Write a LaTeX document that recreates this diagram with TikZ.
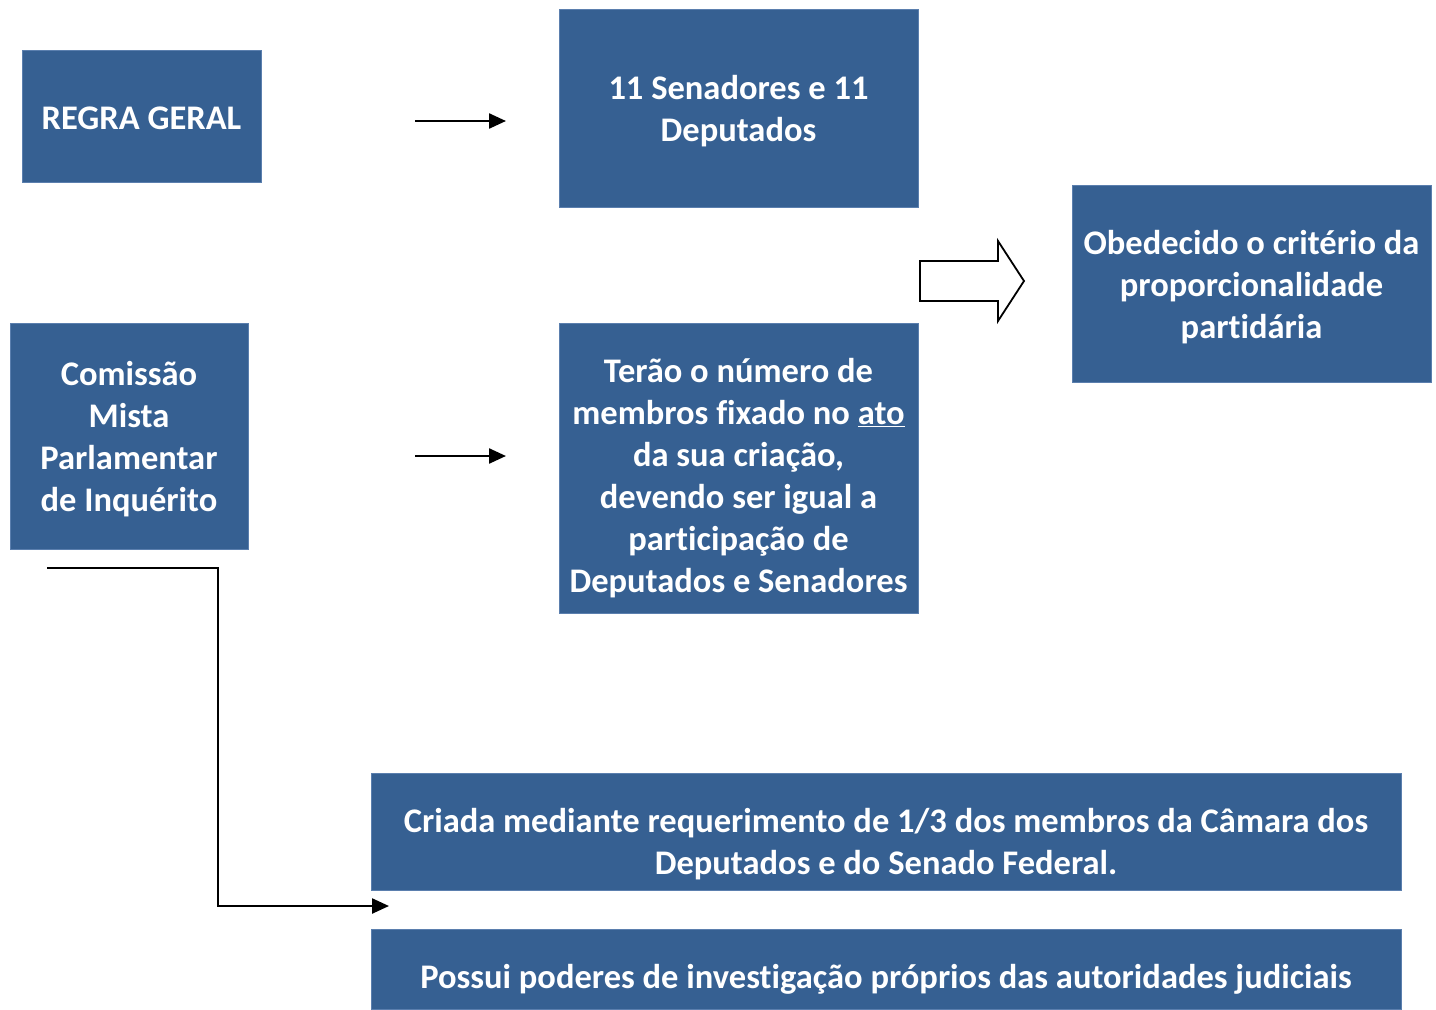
\documentclass[tikz,border=0pt]{standalone}
\usepackage{fontspec}
\setmainfont{Carlito}[Ligatures={NoCommon}]
\usetikzlibrary{arrows.meta}
\definecolor{boxblue}{HTML}{366092}
\definecolor{boxedge}{HTML}{5B7FAE}
\tikzset{
  bluebox/.style={fill=boxblue, draw=boxedge, line width=0.8pt, text=white, font=\bfseries\fontsize{34.5}{42}\selectfont, align=center, inner sep=0pt},
  btext/.style={text=white, font=\bfseries\fontsize{34.5}{42}\selectfont, align=center, inner sep=0pt},
  conn/.style={line width=2.4pt, -{Triangle[length=17pt,width=15pt]}},
}
\begin{document}
\begin{tikzpicture}[x=1pt,y=-1pt]
\useasboundingbox (0,0) rectangle (1436,1010);
% boxes
\node[bluebox, minimum width=239pt, minimum height=132pt] (regra) at (141.5,116) {};
\node[btext] (regratxt) at (141.5,118) {REGRA GERAL};
\node[bluebox, minimum width=359pt, minimum height=198pt] (onze) at (738.5,108) {};
\node[btext] (onzetxt) at (738.5,111) {11 Senadores e 11\\Deputados};
\node[bluebox, minimum width=359pt, minimum height=197pt] (obed) at (1251.5,283.5) {};
\node[btext] (obedtxt) at (1251.5,287) {Obedecido o critério da\\proporcionalidade\\partidária};
\node[bluebox, minimum width=238pt, minimum height=226pt] (cmpi) at (129,436) {};
\node[btext] (cmpitxt) at (129,439) {Comissão\\Mista\\Parlamentar\\de Inquérito};
\node[bluebox, minimum width=359pt, minimum height=290pt] (terao) at (738.5,468) {};
\node[btext] (teraotxt) at (738.5,478) {Terão o número de\\membros fixado no \underline{ato}\\da sua criação,\\devendo ser igual a\\participação de\\Deputados e Senadores};
\node[bluebox, minimum width=1030pt, minimum height=117pt] (criada) at (886,831.5) {};
\node[btext] (criadatxt) at (886,844) {Criada mediante requerimento de 1/3 dos membros da Câmara dos\\Deputados e do Senado Federal.};
\node[bluebox, minimum width=1030pt, minimum height=80pt] (possui) at (886,969) {};
\node[btext] (possuitxt) at (886,979) {Possui poderes de investigação próprios das autoridades judiciais};
% connector coordinates
\coordinate (a1s) at (415,121);
\coordinate (a1e) at (506,121);
\coordinate (a2s) at (415,456);
\coordinate (a2e) at (506,456);
\coordinate (els) at (47,568);
\coordinate (elc) at (218,906);
\coordinate (ele) at (389,906);
\draw[conn] (a1s) -- (a1e);
\draw[conn] (a2s) -- (a2e);
\draw[conn] (els) -| (elc) -- (ele);
% block arrow
\draw[line width=1.8pt, fill=white, line join=miter]
  (920,261) -- (998,261) -- (998,241) -- (1024,281) -- (998,321) -- (998,301) -- (920,301) -- cycle;
\end{tikzpicture}
\end{document}
